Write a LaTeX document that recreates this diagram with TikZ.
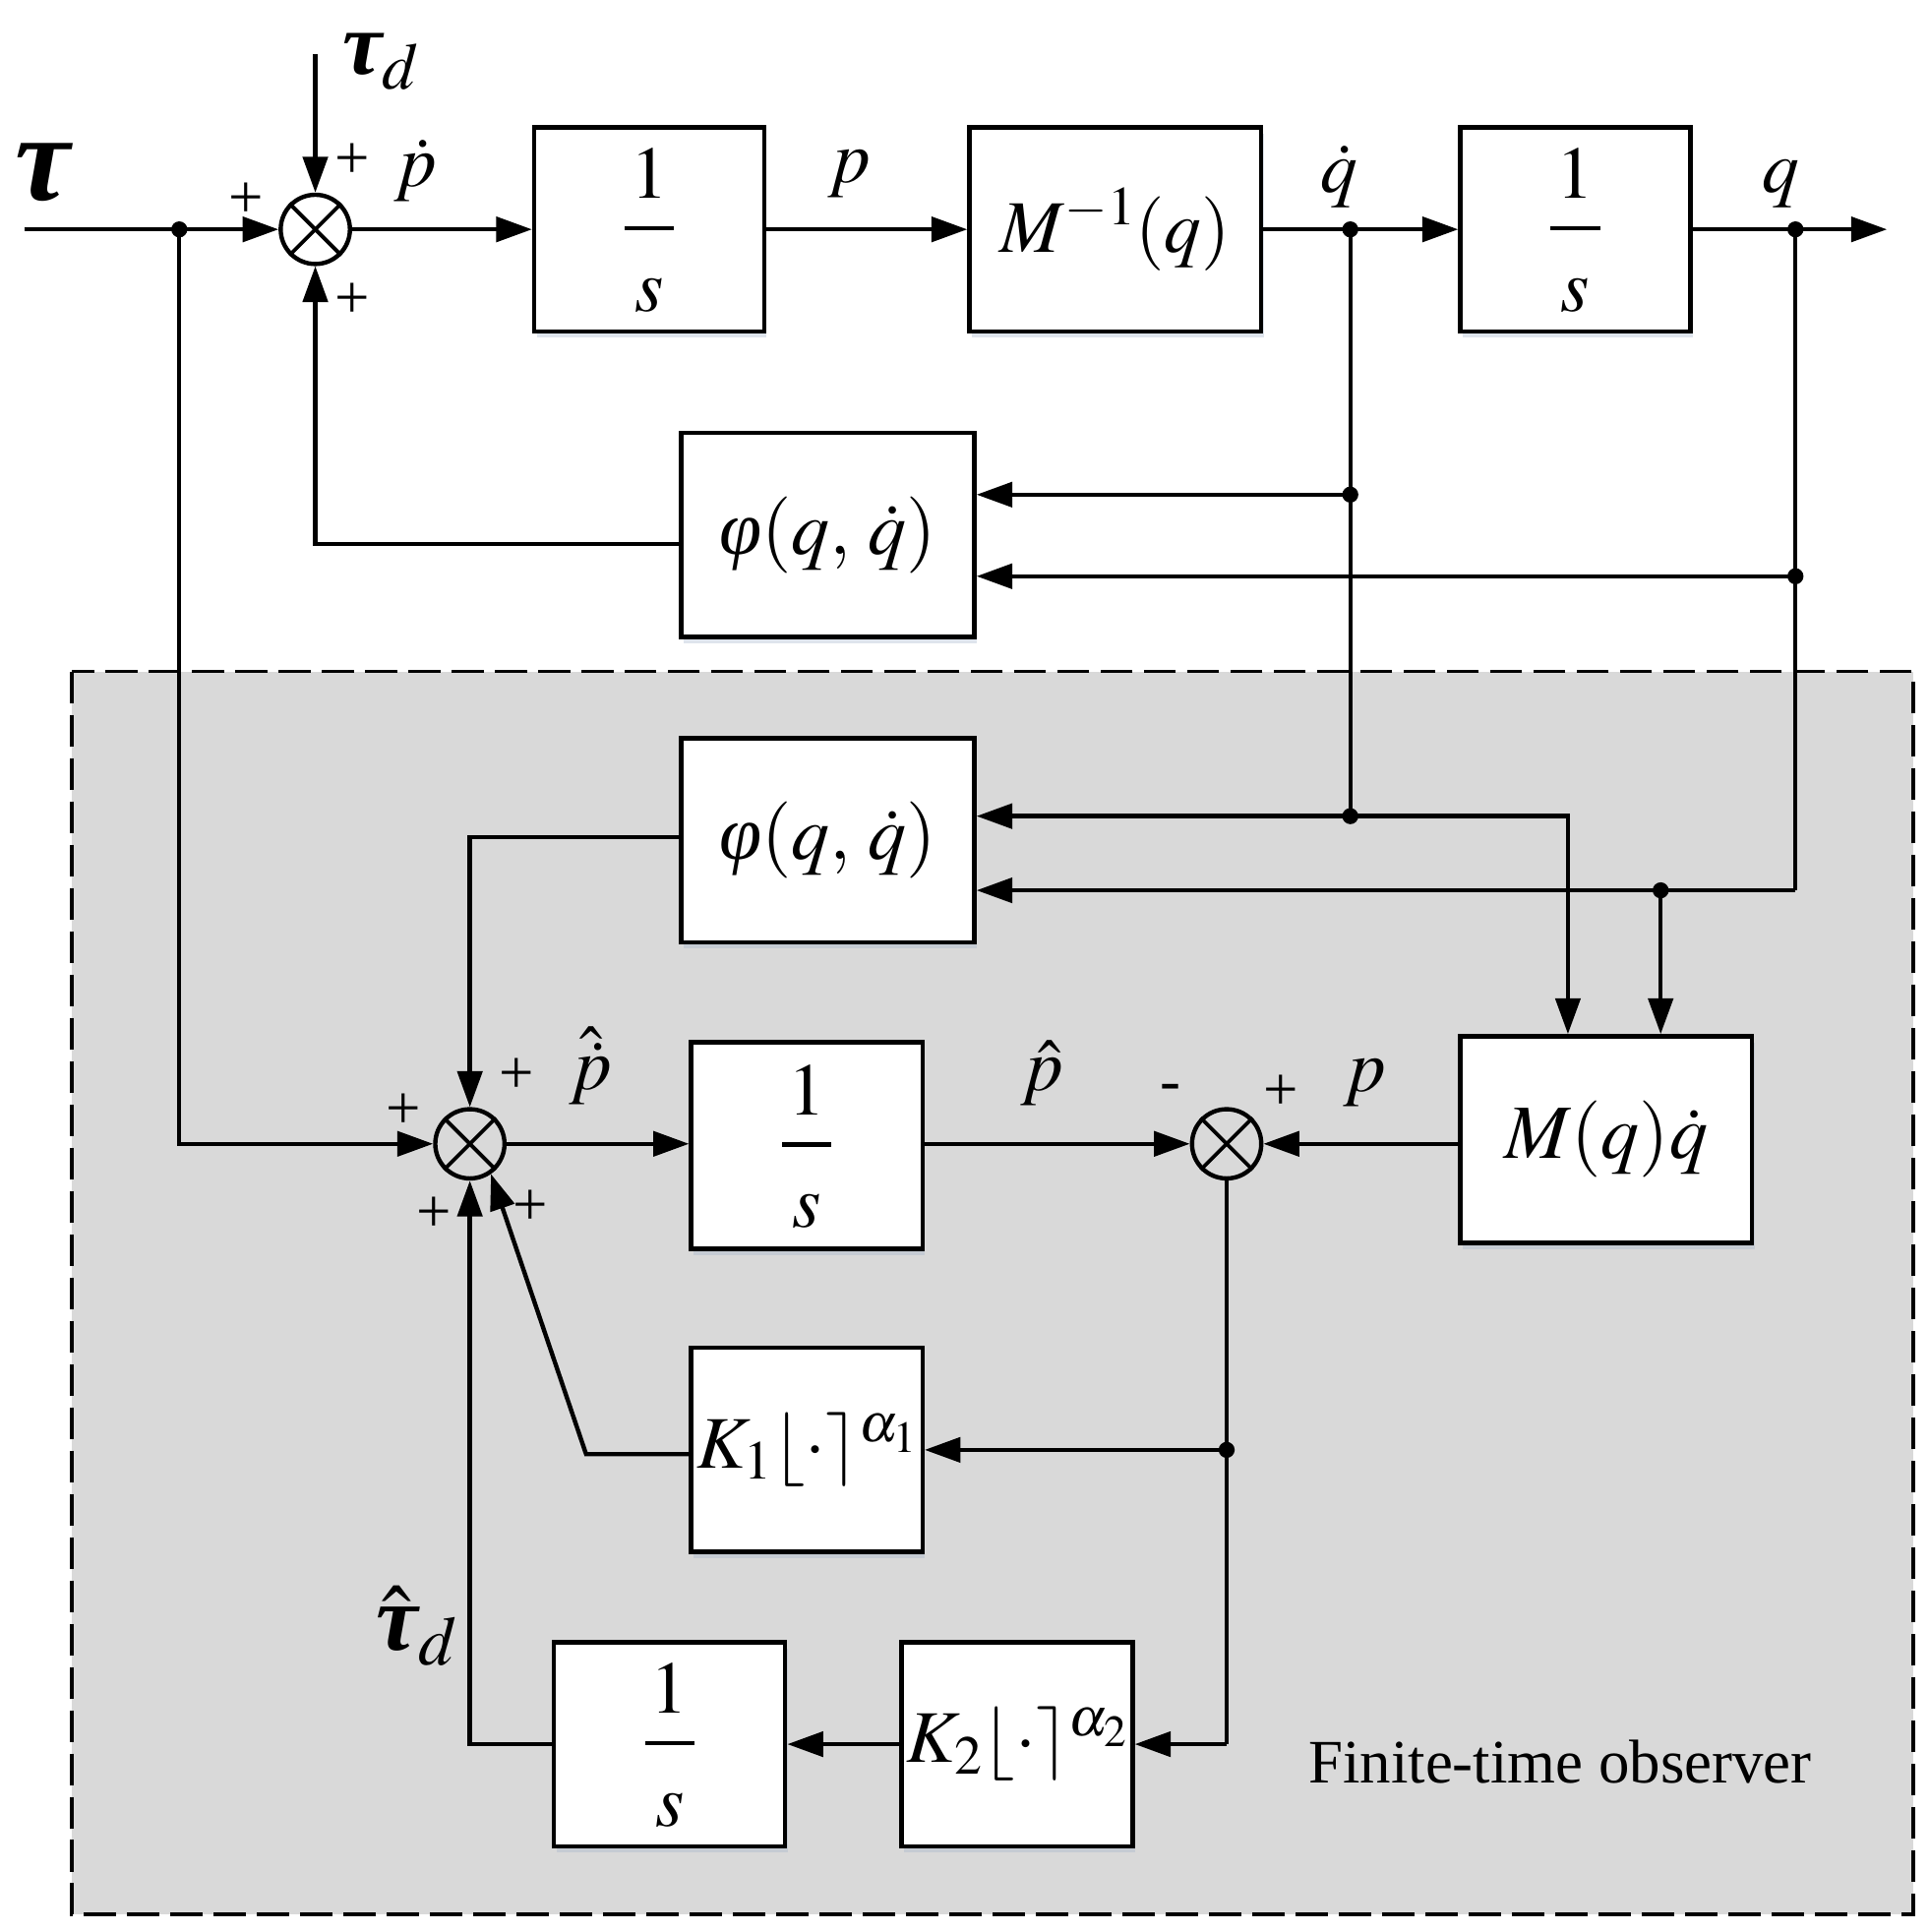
\documentclass[tikz,border=0pt]{standalone}
\usepackage{mathptmx}
\usepackage{fontspec}
\setmainfont{Liberation Serif}
\newfontfamily\grk{Liberation Serif}
\usetikzlibrary{arrows.meta,shadows,calc}
\definecolor{obsgray}{RGB}{217,217,217}
\definecolor{shadowc}{RGB}{160,178,200}
\newcommand\bigtau{\mbox{\grk\bfseries\itshape τ}}
\newcommand\vphi{\mbox{\grk\itshape φ}}
\begin{document}
\begin{tikzpicture}[x=1pt,y=-1pt,
  ln/.style={line width=3.5pt},
  arr/.style={line width=3.5pt,-{Triangle[length=29pt,width=20pt]}},
  blk/.style={draw,line width=3.5pt,fill=white,minimum width=#1,minimum height=165pt,inner sep=0pt,
    drop shadow={shadow xshift=2pt,shadow yshift=-5pt,fill=shadowc,opacity=0.35},
    font=\fontsize{60}{70}\selectfont},
  sumn/.style={draw,circle,line width=3.5pt,minimum size=56pt,inner sep=0pt},
  mth/.style={inner sep=0pt,font=\fontsize{60}{70}\selectfont},
  pls/.style={inner sep=0pt,font=\fontsize{50}{52}\selectfont}
]
\useasboundingbox (0,0) rectangle (1560,1562.4);
% observer background
\draw[fill=obsgray,line width=3pt,dash pattern=on 26pt off 9pt] (58,543) rectangle (1547,1548);
\node[anchor=base west,inner sep=0pt,font=\fontsize{50}{60}\selectfont] (obs) at (1058,1442) {Finite-time observer};

% junction coordinates
\coordinate (in) at (19.5,185.5);
\coordinate (jt) at (145,185.5);
\coordinate (tdtop) at (255,44);
\coordinate (jqd0) at (1092,185.5);
\coordinate (jqd1) at (1092,400);
\coordinate (jqd2) at (1092,660);
\coordinate (jq0) at (1452,185.5);
\coordinate (jq1) at (1452,466);
\coordinate (jqc) at (1452,720);
\coordinate (jq2) at (1343,720);
\coordinate (out) at (1526,185.5);
\coordinate (jk1) at (992,1172.5);
\coordinate (jk2) at (992,1410.5);
\coordinate (kc) at (474,1176);

% sums
\node[sumn] (S1) at (255,185.5) {};
\node[sumn] (S2) at (380,925) {};
\node[sumn] (S3) at (992,925) {};
\foreach \s in {S1,S2,S3}{
  \draw[line width=3pt] (\s.45) -- (\s.225) (\s.135) -- (\s.315);
}

% lines under boxes
\draw[ln] (jqd0) -- (jqd2);
\draw[ln] (jq0) -- (jqc);
\draw[ln] (S3.south) -- (jk2);

% blocks
\node[blk=186pt] (B1) at (525,185.5) {};
\node[blk=236pt] (B2) at (902,185.5) {$M^{-1}(q)$};
\node[blk=186pt] (B3) at (1274,185.5) {};
\node[blk=237pt,font=\fontsize{62}{70}\selectfont] (P1) at (669.5,432.5) {$\vphi(q,\,\dot{q})$};
\node[blk=237pt,font=\fontsize{62}{70}\selectfont] (P2) at (669.5,679.5) {$\vphi(q,\,\dot{q})$};
\node[blk=187pt,minimum height=167pt] (B4) at (652.5,926.5) {};
\node[blk=236pt,minimum height=167pt,font=\fontsize{62}{70}\selectfont] (MQ) at (1299,921.5) {$M(q)\dot{q}$};
\node[blk=187pt] (K1) at (652.5,1172.5) {$K_1\lfloor\cdot\rceil^{\alpha_1}$};
\node[blk=187pt] (K2) at (822.5,1410.5) {$K_2\lfloor\cdot\rceil^{\alpha_2}$};
\node[blk=187pt] (B5) at (541.5,1410.5) {};

% 1/s contents
\foreach \b in {B1,B3,B4,B5}{
  \node[mth,anchor=base] (\b one) at ([yshift=25pt]\b.center) {$1$};
  \draw[line width=3.5pt] ([xshift=-20pt,yshift=1pt]\b.center) -- ([xshift=20pt,yshift=1pt]\b.center);
  \node[mth,anchor=base] (\b s) at ([yshift=-66pt]\b.center) {$s$};
}

% top row connectors
\draw[arr] (in) -- (S1.west);
\draw[arr] (tdtop) -- (S1.north);
\draw[arr] (S1.east) -- (S1.east -| B1.west);
\draw[arr] (B1.east) -- (B2.west);
\draw[arr] (B2.east) -- (B3.west);
\draw[arr] (B3.east) -- (out);
% feedback phi1
\draw[arr] ([yshift=-7.5pt]P1.west) -| (S1.south);
\draw[arr] (jqd1) -- (jqd1 -| P1.east);
\draw[arr] (jq1) -- (jq1 -| P1.east);
% observer inputs
\draw[arr] (jt) |- (S2.west);
\draw[arr] (jqd2) -- (jqd2 -| P2.east);
\draw[arr] (jqc) -- (jqc -| P2.east);
\draw[arr] (jqd2) -| ([xshift=-31pt]MQ.north);
\draw[arr] (jq2) -- (jq2 |- MQ.north);
\draw[arr] ([yshift=2.5pt]P2.west) -| (S2.north);
\draw[arr] (S2.east) -- (S2.east -| B4.west);
\draw[arr] (S3.west -| B4.east) -- (S3.west);
\draw[arr] (S3.east -| MQ.west) -- (S3.east);
\draw[arr] (jk1) -- (jk1 -| K1.east);
\draw[arr] (jk2) -- (jk2 -| K2.east);
\draw[arr] ([yshift=-3.5pt]K1.west) -- (kc) -- (S2.-55);
\draw[arr] (K2.west) -- (B5.east);
\draw[arr] (B5.west) -| (S2.south);

% junction dots
\foreach \j in {jt,jqd0,jqd1,jqd2,jq0,jq1,jq2,jk1}{
  \fill (\j) circle (6.5pt);
}

% signal labels
\node[anchor=base west,inner sep=0pt,font=\fontsize{100}{110}\selectfont] (ltau) at (12,162) {\bigtau};
\node[anchor=base west,inner sep=0pt,font=\fontsize{72}{80}\selectfont] (ltd) at (277,60) {$\bigtau_d$};
\node[mth] (lpd) at (336,138) {$\dot{p}$};
\node[mth] (lp) at (687,141) {$p$};
\node[mth] (lqd) at (1083,143) {$\dot{q}$};
\node[mth] (lq) at (1440,149) {$q$};
\node[mth] (lphd) at (478,862) {$\hat{\dot{p}}$};
\node[mth] (lph) at (843,868) {$\hat{p}$};
\node[mth] (lp2) at (1104,876) {$p$};
\node[anchor=center,inner sep=0pt,font=\fontsize{76}{84}\selectfont] (ltdh) at (337,1315) {$\hat{\bigtau}_d$};

% signs
\node[pls] (s1a) at (199,162) {+};
\node[pls] (s1b) at (285,130) {+};
\node[pls] (s1c) at (285,243) {+};
\node[pls] (s2a) at (326,899) {+};
\node[pls] (s2b) at (418,870) {+};
\node[pls] (s2c) at (351,982) {+};
\node[pls] (s2d) at (429,977) {+};
\node[pls] (s3a) at (947,884) {-};
\node[pls] (s3b) at (1036,884) {+};
\end{tikzpicture}
\end{document}
